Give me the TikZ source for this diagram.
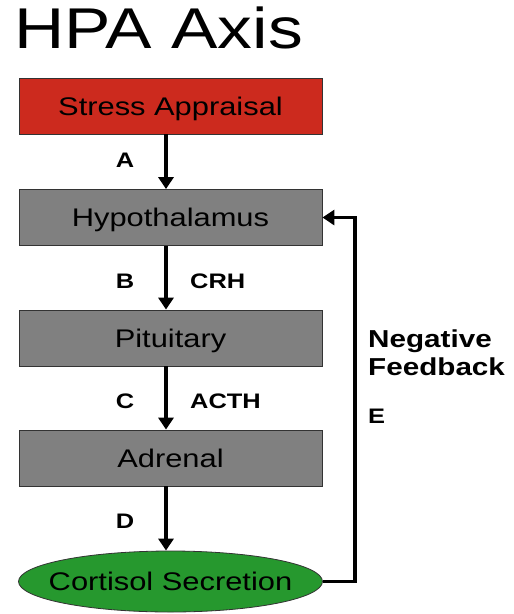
\documentclass[tikz,border=0pt]{standalone}
\usepackage{fontspec}
\setmainfont{Liberation Sans}[FakeStretch=1.21]
\usepackage{tikz}
\usetikzlibrary{
    arrows.meta,
    positioning,
    calc,
    shapes.geometric
}
\definecolor{AppraisalRed}{RGB}{204,42,30}
\definecolor{StageGray}{RGB}{128,128,128}
\definecolor{CortisolGreen}{RGB}{38,152,46}

\tikzset{
    stage/.style={
        draw=black!80,
        line width=0.8pt,
        fill=StageGray,
        minimum width=303pt,
        minimum height=56pt,
        inner sep=0pt,
        text height=18pt,
        text depth=0pt,
        font=\fontsize{25.5}{28}\selectfont
    },
    steplabel/.style={
        font=\fontsize{21}{24}\selectfont\bfseries,
        inner sep=0pt
    },
    flow/.style={
        -{Triangle[length=12pt,width=15pt]},
        line width=3.2pt
    }
}

\begin{document}
\begin{tikzpicture}[x=1pt,y=1pt]
%
    \useasboundingbox (0,0) rectangle (514,-614);
%
    \node[
        anchor=base west,
        inner sep=0pt,
        font=\fontsize{57.5}{60}\selectfont
    ]
    (title) at (14,-48) {HPA Axis};
%
    % Stages
%
    \node[
        stage,
        fill=AppraisalRed
    ]
    (stress) at (170.5,-106) {Stress Appraisal};
%
    \node[stage] (hypo) at (170.5,-217.5) {Hypothalamus};
    \node[stage] (pit) at (170.5,-338) {Pituitary};
    \node[stage] (adr) at (170.5,-458) {Adrenal};
%
    \node[
        ellipse,
        draw=black!80,
        line width=0.8pt,
        fill=CortisolGreen,
        minimum width=304pt,
        minimum height=61pt,
        inner sep=0pt,
        text height=18pt,
        text depth=0pt,
        font=\fontsize{25.5}{28}\selectfont
    ]
    (cort) at (170.5,-581.5) {\makebox[0pt]{Cortisol Secretion}};
%
    % Connectors
%
    \draw[flow] ([xshift=-4.5pt]stress.south) -- ([xshift=-4.5pt]hypo.north);
    \draw[flow] ([xshift=-4.5pt]hypo.south) -- ([xshift=-4.5pt]pit.north);
    \draw[flow] ([xshift=-4.5pt]pit.south) -- ([xshift=-4.5pt]adr.north);
    \draw[flow] ([xshift=-4.5pt]adr.south) -- ([xshift=-4.5pt]cort.north);
%
    \coordinate (fbtop) at (355,-217.5);
    \draw[
        flow,
        line join=miter
    ]
    (cort.east) -| (fbtop) -- (hypo.east);
%
    % Labels
%
    \node[steplabel] (la) at (125,-160) {A};
    \node[steplabel] (lb) at (125,-281) {B};
    \node[steplabel, anchor=west] (lcrh) at (190,-281) {CRH};
    \node[steplabel] (lc) at (125,-401) {C};
    \node[steplabel, anchor=west] (lacth) at (190,-401) {ACTH};
    \node[steplabel] (ld) at (125,-521) {D};
%
    \node[
        anchor=base west,
        align=left,
        inner sep=0pt,
        font=\fontsize{24.5}{28}\selectfont\bfseries
    ]
    (neg) at (368,-375) {Negative\\Feedback};
    \node[
        steplabel,
        anchor=base west
    ]
    (le) at (368,-423) {E};
%
\end{tikzpicture}
\end{document}
